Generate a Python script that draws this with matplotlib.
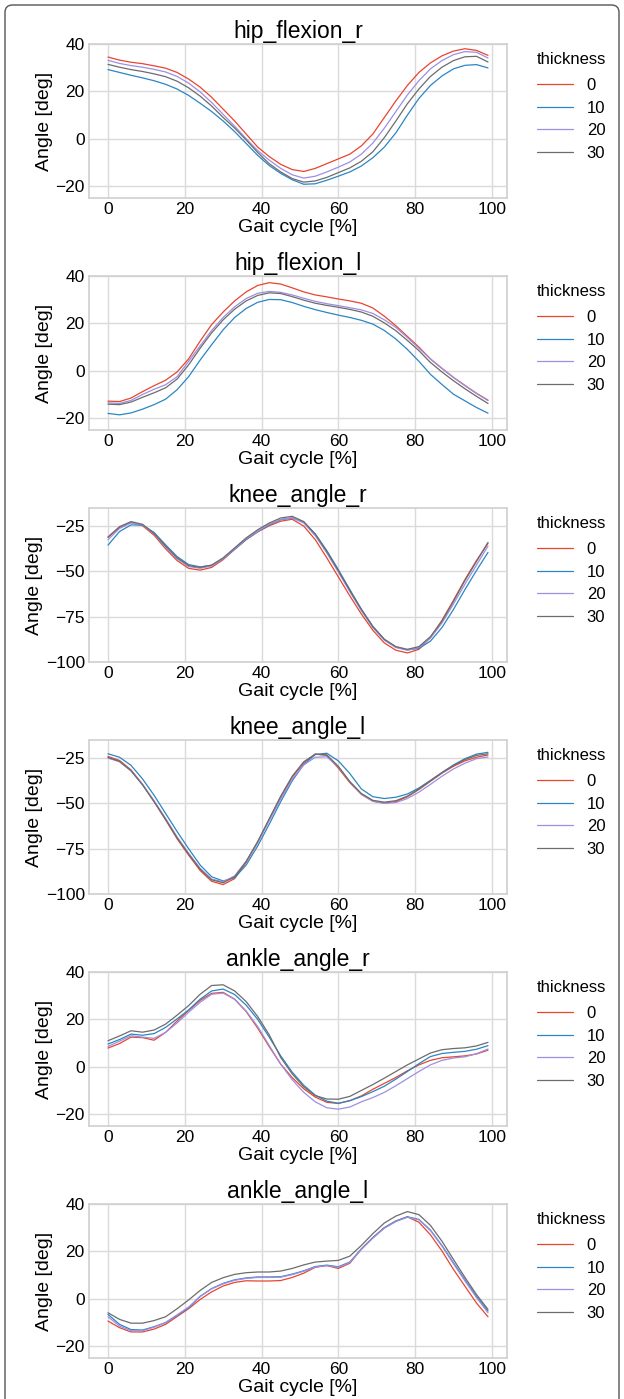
import matplotlib
matplotlib.use("Agg")
import matplotlib.pyplot as plt
from matplotlib.patches import FancyBboxPatch

# ---------------- data ----------------
gait = [0, 3, 6, 9, 12, 15, 18, 21, 24, 27, 30, 33, 36, 39, 42, 45, 48, 51,
        54, 57, 60, 63, 66, 69, 72, 75, 78, 81, 84, 87, 90, 93, 96, 99]
thickness_labels = ["0", "10", "20", "30"]
titles = ["hip_flexion_r", "hip_flexion_l", "knee_angle_r", "knee_angle_l",
          "ankle_angle_r", "ankle_angle_l"]

hip_r_0 = [34.5, 33.2, 32.3, 31.7, 30.8, 29.8, 28.0, 25.2, 21.8, 17.5, 12.5, 7.5, 2.0, -3.5, -7.5, -10.8, -13.0, -13.8,
           -12.5, -10.5, -8.5, -6.5, -3.0, 2.0, 9.0, 16.0, 22.5, 28.0, 32.0, 35.0, 37.0, 38.0, 37.3, 35.2]
hip_r_10 = [29.2, 28.0, 26.8, 25.7, 24.5, 23.0, 21.0, 18.3, 15.0, 11.5, 7.5, 3.0, -2.0, -7.0, -11.3, -14.6, -17.3, -19.2,
            -19.0, -17.5, -15.8, -14.0, -11.5, -8.0, -3.5, 2.5, 10.0, 17.0, 22.5, 26.5, 29.5, 31.0, 31.3, 29.9]
hip_r_20 = [33.1, 31.8, 30.9, 30.2, 29.3, 28.2, 26.3, 23.5, 19.8, 15.3, 10.3, 5.3, 0.0, -5.0, -9.0, -12.5, -15.2, -16.6,
            -15.8, -14.0, -12.0, -9.8, -6.5, -1.8, 4.5, 11.5, 18.5, 24.5, 29.5, 33.0, 35.5, 36.8, 36.5, 34.1]
hip_r_30 = [31.4, 30.2, 29.2, 28.4, 27.4, 26.2, 24.3, 21.5, 18.0, 13.8, 9.0, 4.5, -0.5, -5.8, -10.5, -14.0, -16.8, -18.3,
            -17.8, -16.3, -14.3, -12.3, -9.5, -5.5, 0.5, 7.5, 14.8, 21.0, 26.3, 30.2, 33.0, 34.6, 34.8, 32.4]

hip_l_0 = [-12.8, -13.0, -11.5, -8.8, -6.3, -4.0, -0.5, 5.0, 12.5, 19.5, 24.8, 29.5, 33.3, 36.0, 37.2, 36.6, 35.0, 33.3,
           32.0, 31.2, 30.3, 29.5, 28.5, 26.5, 23.0, 19.0, 14.5, 10.0, 5.0, 1.0, -2.8, -6.2, -9.5, -12.4]
hip_l_10 = [-18.0, -18.6, -17.8, -16.2, -14.3, -12.0, -8.0, -2.5, 4.5, 11.0, 17.3, 22.5, 26.3, 28.9, 30.1, 30.0, 28.8, 27.2,
            25.8, 24.6, 23.5, 22.5, 21.3, 19.7, 17.0, 13.4, 9.0, 4.0, -1.5, -5.8, -9.9, -12.7, -15.5, -17.9]
hip_l_20 = [-13.5, -13.8, -12.5, -10.0, -7.8, -5.9, -2.5, 4.0, 10.5, 17.0, 22.5, 27.0, 30.5, 32.7, 33.5, 33.1, 32.0, 30.6,
            29.3, 28.3, 27.5, 26.6, 25.7, 24.2, 21.5, 18.3, 14.0, 9.5, 5.0, 1.0, -2.8, -6.3, -9.6, -12.6]
hip_l_30 = [-14.1, -14.3, -13.2, -11.2, -9.3, -7.2, -3.5, 2.5, 9.5, 16.0, 21.5, 26.0, 29.5, 31.8, 32.9, 32.6, 31.3, 29.8,
            28.5, 27.6, 26.8, 25.9, 24.8, 23.0, 20.2, 16.9, 12.8, 8.5, 3.5, -0.5, -4.2, -7.6, -10.8, -13.8]

knee_r_0 = [-31.2, -25.8, -23.0, -24.8, -30.0, -37.5, -44.0, -48.3, -49.3, -47.8, -43.5, -37.8, -32.5, -28.2, -24.8, -22.3, -21.2, -25.0,
            -32.5, -42.5, -53.0, -63.5, -73.5, -82.5, -89.5, -93.5, -95.0, -93.0, -86.5, -77.0, -66.0, -54.5, -44.0, -34.5]
knee_r_10 = [-35.5, -28.0, -24.3, -24.5, -28.5, -35.3, -41.8, -46.2, -47.5, -46.6, -43.0, -37.8, -32.3, -28.0, -24.3, -21.5, -20.5, -22.8,
             -29.3, -38.5, -49.0, -60.0, -70.8, -80.3, -87.5, -91.8, -93.3, -92.5, -88.5, -81.0, -71.0, -60.0, -49.5, -39.5]
knee_r_20 = [-32.5, -26.3, -23.2, -24.3, -29.3, -36.5, -43.0, -47.3, -48.3, -47.0, -43.0, -37.5, -32.0, -27.8, -24.0, -21.3, -20.4, -23.3,
             -30.3, -39.8, -50.3, -61.2, -71.7, -81.0, -88.0, -92.0, -93.5, -92.0, -86.8, -78.5, -68.0, -57.0, -46.5, -36.0]
knee_r_30 = [-31.0, -25.3, -22.5, -24.0, -29.0, -36.0, -42.5, -46.8, -47.8, -46.5, -42.5, -37.0, -31.5, -27.0, -23.3, -20.5, -19.6, -22.5,
             -29.5, -39.0, -49.5, -60.5, -71.0, -80.5, -87.5, -91.5, -93.0, -91.5, -86.0, -77.5, -66.5, -55.0, -44.5, -34.0]

knee_l_0 = [-24.1, -26.3, -31.5, -39.5, -49.0, -59.0, -69.5, -78.5, -87.0, -93.0, -94.8, -91.5, -82.5, -71.5, -59.0, -46.5, -35.5, -27.5,
            -22.8, -23.5, -30.5, -38.5, -45.0, -48.8, -49.8, -49.0, -46.3, -42.3, -37.8, -33.3, -29.5, -26.5, -24.5, -23.3]
knee_l_10 = [-22.6, -24.5, -29.0, -36.5, -45.5, -55.5, -65.5, -75.0, -84.0, -90.5, -92.8, -91.0, -84.0, -73.5, -61.5, -49.0, -37.5, -28.5,
             -23.0, -22.3, -26.5, -33.5, -42.0, -46.3, -47.3, -46.6, -44.8, -41.5, -37.3, -33.0, -28.8, -25.3, -22.8, -21.8]
knee_l_20 = [-25.0, -27.0, -32.0, -39.5, -48.5, -58.3, -68.5, -77.5, -85.8, -91.8, -93.2, -90.0, -82.0, -71.5, -59.5, -47.5, -36.5, -28.8,
             -24.5, -24.3, -29.8, -38.0, -44.8, -48.8, -50.0, -49.5, -47.3, -43.8, -39.5, -35.0, -31.0, -27.8, -25.3, -24.4]
knee_l_30 = [-24.6, -26.8, -32.0, -39.8, -49.0, -58.8, -69.0, -78.0, -86.3, -92.2, -93.8, -90.5, -82.0, -71.0, -58.5, -46.0, -35.0, -27.0,
             -22.8, -23.2, -29.5, -38.0, -44.5, -48.3, -49.3, -48.5, -46.0, -42.0, -37.5, -33.0, -29.0, -25.8, -23.5, -22.6]

ankle_r_0 = [7.9, 9.8, 12.5, 12.3, 11.2, 14.5, 19.3, 23.8, 28.0, 31.0, 31.4, 28.5, 23.3, 16.3, 8.5, 1.1, -4.6, -9.3,
             -12.8, -15.0, -15.5, -14.3, -12.3, -9.5, -7.0, -4.5, -1.7, 0.8, 2.7, 3.8, 4.2, 4.6, 5.4, 7.0]
ankle_r_10 = [9.6, 11.5, 13.8, 13.3, 14.0, 16.6, 20.2, 24.0, 28.5, 32.0, 32.8, 30.5, 26.0, 20.0, 12.5, 4.6, -2.3, -7.8,
              -12.0, -14.5, -15.4, -14.3, -12.6, -10.5, -8.2, -5.2, -2.0, 1.3, 4.3, 5.6, 6.1, 6.5, 7.4, 8.9]
ankle_r_20 = [8.6, 10.8, 13.1, 12.5, 12.0, 14.5, 18.5, 23.0, 27.2, 30.6, 31.1, 28.5, 23.5, 17.0, 9.0, 1.1, -5.5, -10.8,
              -14.8, -17.3, -17.9, -17.0, -14.8, -13.0, -10.8, -8.0, -5.0, -2.0, 0.8, 2.7, 3.7, 4.2, 5.5, 7.5]
ankle_r_30 = [11.0, 13.0, 15.2, 14.6, 15.5, 18.0, 21.8, 25.8, 30.6, 34.3, 34.6, 32.0, 27.5, 21.2, 13.5, 3.9, -3.0, -8.5,
              -12.2, -13.6, -13.7, -12.5, -10.0, -7.5, -4.8, -2.0, 0.8, 3.3, 5.8, 7.2, 7.7, 8.0, 8.8, 10.3]

ankle_l_0 = [-9.4, -12.2, -14.0, -14.0, -12.8, -10.8, -7.5, -4.2, -0.3, 2.9, 5.4, 6.9, 7.6, 7.5, 7.5, 7.7, 9.0, 10.8,
             13.3, 14.0, 12.8, 15.0, 21.0, 25.8, 30.0, 32.8, 34.6, 32.3, 27.0, 20.2, 12.4, 5.3, -1.8, -7.6]
ankle_l_10 = [-6.6, -10.8, -13.0, -13.2, -11.8, -10.1, -7.0, -3.8, 1.0, 4.3, 6.5, 8.0, 8.8, 9.2, 9.2, 9.3, 10.4, 11.8,
              13.6, 14.2, 13.5, 15.5, 21.0, 25.8, 30.0, 32.8, 34.6, 33.5, 29.0, 22.5, 15.2, 8.0, 1.0, -5.2]
ankle_l_20 = [-7.6, -11.5, -13.5, -13.5, -12.0, -10.0, -6.8, -3.5, 1.0, 4.2, 6.3, 7.8, 8.6, 9.0, 9.0, 9.1, 10.2, 11.6,
              13.4, 14.0, 13.3, 15.3, 20.8, 25.6, 29.8, 32.6, 34.4, 33.3, 28.8, 22.2, 14.8, 7.5, 0.5, -5.9]
ankle_l_30 = [-5.9, -8.7, -10.3, -10.3, -9.2, -7.6, -4.2, -0.5, 3.5, 6.9, 8.9, 10.3, 11.0, 11.3, 11.3, 11.7, 12.8, 14.3,
              15.5, 15.9, 16.2, 18.0, 22.5, 27.5, 32.0, 34.9, 36.8, 35.5, 31.0, 24.3, 16.6, 9.0, 1.8, -4.5]

panels = [
    [hip_r_0, hip_r_10, hip_r_20, hip_r_30],
    [hip_l_0, hip_l_10, hip_l_20, hip_l_30],
    [knee_r_0, knee_r_10, knee_r_20, knee_r_30],
    [knee_l_0, knee_l_10, knee_l_20, knee_l_30],
    [ankle_r_0, ankle_r_10, ankle_r_20, ankle_r_30],
    [ankle_l_0, ankle_l_10, ankle_l_20, ankle_l_30],
]

# ---------------- style ----------------
plt.style.use("seaborn-v0_8-whitegrid")
plt.rcParams["font.family"] = ["Liberation Sans", "DejaVu Sans"]
plt.rcParams["axes.edgecolor"] = "#d0d0d0"
plt.rcParams["grid.color"] = "#dadada"
plt.rcParams["text.color"] = "black"
plt.rcParams["axes.labelcolor"] = "black"
plt.rcParams["axes.titlecolor"] = "black"

colors = ["#e8452f", "#2a86c4", "#9d8fe2", "#6c6c6c"]

W, H = 624, 1399
fig = plt.figure(figsize=(W / 100, H / 100), dpi=100)

for i, (title, series) in enumerate(zip(titles, panels)):
    top = 44 + 232 * i
    bot = 198 + 232 * i
    ax = fig.add_axes([89 / W, 1 - bot / H, 418 / W, (bot - top) / H])
    for vals, c, lab in zip(series, colors, thickness_labels):
        ax.plot(gait, vals, color=c, lw=0.9, label=lab, solid_joinstyle="round")
    ax.set_xlim(-4.95, 103.95)
    ax.set_xticks([0, 20, 40, 60, 80, 100])
    if title.startswith("knee"):
        ax.set_ylim(-100, -15)
        ax.set_yticks([-100, -75, -50, -25])
    else:
        ax.set_ylim(-25, 40)
        ax.set_yticks([-20, 0, 20, 40])
    ax.tick_params(labelsize=12.5, colors="black", pad=3)
    ax.set_title(title, fontsize=16.5, pad=4)
    ax.set_xlabel("Gait cycle [%]", fontsize=14, labelpad=1)
    ax.set_ylabel("Angle [deg]", fontsize=14, labelpad=2)
    for sp in ax.spines.values():
        sp.set_linewidth(1.2)
    ax.grid(True, lw=1.0)
    leg = ax.legend(title="thickness", loc="upper left", bbox_to_anchor=(1.055, 0.99),
                    frameon=False, fontsize=12, title_fontsize=12,
                    handlelength=2.2, labelspacing=0.45, borderaxespad=0)
    leg._legend_box.align = "left"
    leg._legend_box.sep = 8

# outer rounded border (cut at bottom)
border = FancyBboxPatch((5 / W, -0.05), (W - 10) / W, 1 - 5 / H + 0.05,
                        boxstyle="round,pad=0,rounding_size=0.012",
                        transform=fig.transFigure, fill=False,
                        edgecolor="#555555", lw=1.0, mutation_aspect=W / H)
fig.patches.append(border)

fig.savefig("out.png", dpi=100)
